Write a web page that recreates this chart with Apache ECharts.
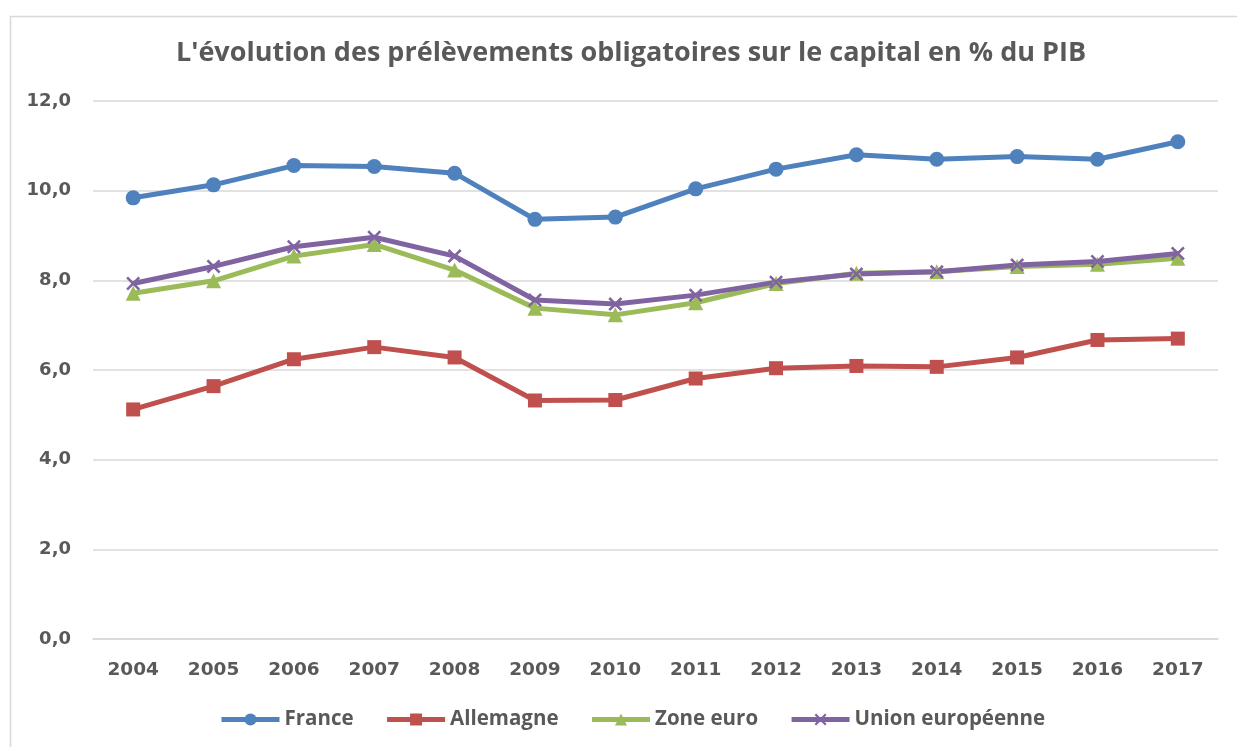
<!DOCTYPE html>
<html>
<head>
<meta charset="utf-8">
<script src="https://cdn.jsdelivr.net/npm/echarts@6/dist/echarts.min.js"></script>
<style>
html,body{margin:0;padding:0;background:#fff;}
#chart{width:1237px;height:747px;}
</style>
</head>
<body>
<div id="chart"></div>
<script>
const titleText = "L'évolution des prélèvements obligatoires sur le capital en % du PIB";
const years = ['2004','2005','2006','2007','2008','2009','2010','2011','2012','2013','2014','2015','2016','2017'];
const france    = [9.84, 10.13, 10.56, 10.54, 10.39, 9.36, 9.41, 10.04, 10.48, 10.80, 10.70, 10.76, 10.70, 11.09];
const allemagne = [5.12, 5.64, 6.24, 6.51, 6.28, 5.32, 5.33, 5.81, 6.04, 6.09, 6.07, 6.28, 6.67, 6.70];
const zoneEuro  = [7.71, 7.99, 8.54, 8.80, 8.23, 7.38, 7.23, 7.50, 7.93, 8.16, 8.19, 8.31, 8.36, 8.49];
const unionEu   = [7.93, 8.31, 8.75, 8.96, 8.54, 7.56, 7.47, 7.67, 7.96, 8.14, 8.19, 8.34, 8.42, 8.60];
const seriesNames = ['France', 'Allemagne', 'Zone euro', 'Union européenne'];

const textFont = "'Open Sans', sans-serif";
const axisFont = "'DejaVu Sans', Verdana, sans-serif";
const xSymbol = 'path://M0,1.3 L1.3,0 L5,3.7 L8.7,0 L10,1.3 L6.3,5 L10,8.7 L8.7,10 L5,6.3 L1.3,10 L0,8.7 L3.7,5 Z';

const chart = echarts.init(document.getElementById('chart'));
function mk(name, data, color, symbol, size) {
  return {
    name: name, type: 'line', data: data,
    symbol: symbol, symbolSize: size, showSymbol: true,
    lineStyle: {color: color, width: 5},
    itemStyle: {color: color},
    emphasis: {disabled: true},
    animation: false
  };
}
chart.setOption({
  animation: false,
  backgroundColor: '#fff',
  graphic: [{
    type: 'rect', left: 8, top: 14,
    shape: {x: 0, y: 0, width: 1300, height: 800},
    style: {fill: 'none', stroke: '#d9d9d9', lineWidth: 1.5},
    silent: true
  }],
  title: {
    text: titleText, left: 626, textAlign: 'center', top: 35,
    textStyle: {fontFamily: textFont, fontWeight: 'bold', fontSize: 27, color: '#595959'}
  },
  legend: {
    data: seriesNames,
    left: 214, top: 704,
    itemWidth: 58, itemHeight: 15, itemGap: 31,
    lineStyle: {width: 5},
    textStyle: {fontFamily: textFont, fontWeight: 'bold', fontSize: 20.5, color: '#595959'}
  },
  grid: {left: 93, right: 19, top: 101, bottom: 108, containLabel: false},
  xAxis: {
    type: 'category', data: years, boundaryGap: true,
    axisLine: {show: true, lineStyle: {color: '#d9d9d9', width: 1.5}},
    axisTick: {show: false},
    axisLabel: {margin: 22, fontFamily: axisFont, fontWeight: 'bold', fontSize: 18.5, color: '#595959'}
  },
  yAxis: {
    type: 'value', min: 0, max: 12, interval: 2,
    axisLine: {show: false}, axisTick: {show: false},
    splitLine: {lineStyle: {color: '#d9d9d9', width: 1.5}},
    axisLabel: {margin: 22, fontFamily: axisFont, fontWeight: 'bold', fontSize: 18, color: '#595959',
      formatter: v => v.toFixed(1).replace('.', ',')}
  },
  series: [
    mk(seriesNames[0], france, '#4F81BD', 'circle', 15),
    mk(seriesNames[1], allemagne, '#C0504D', 'rect', 14),
    mk(seriesNames[2], zoneEuro, '#9BBB59', 'triangle', 15),
    mk(seriesNames[3], unionEu, '#8064A2', xSymbol, 14)
  ]
});
</script>
</body>
</html>
